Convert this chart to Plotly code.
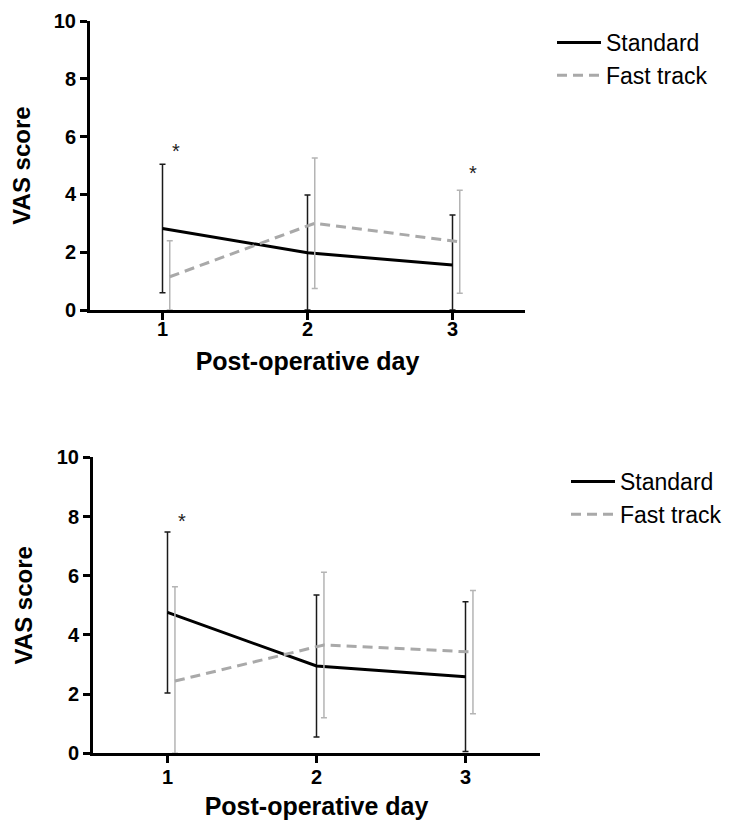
import plotly.graph_objects as go

days = [1, 2, 3]
tick_vals = [0, 2, 4, 6, 8, 10]

# Panel A (top)
top_standard_mean = [2.82, 1.98, 1.56]
top_standard_sd = [2.22, 2.0, 1.73]
top_fast_mean = [1.15, 3.0, 2.36]
top_fast_sd = [1.25, 2.26, 1.78]

# Panel B (bottom)
bot_standard_mean = [4.76, 2.95, 2.59]
bot_standard_sd = [2.72, 2.40, 2.53]
bot_fast_mean = [2.44, 3.66, 3.42]
bot_fast_sd = [3.19, 2.46, 2.08]

top_stars_x = [1.09, 3.14]
top_stars_y = [5.5, 4.75]
bot_stars_x = [1.1]
bot_stars_y = [7.85]

BLACK = "#000000"
GRAY = "#a9a9a9"
EB_GRAY = "#b4b4b4"
OFFSET = 0.05
FONT = "Liberation Sans, Arial, sans-serif"

W, H = 723, 812  # page has an 8px body margin

fig = go.Figure()


def add_panel(std_m, std_sd, fst_m, fst_sd, xa, ya, legend):
    fx = [d + OFFSET for d in days]
    fig.add_trace(go.Scatter(
        x=days, y=std_m, mode="lines", name="Standard",
        line=dict(color=BLACK, width=3),
        error_y=dict(type="data", symmetric=False, array=std_sd,
                     arrayminus=[min(s, m) for s, m in zip(std_sd, std_m)],
                     color="#1a1a1a", thickness=1.5, width=3),
        xaxis=xa, yaxis=ya, legend=legend, showlegend=True))
    fig.add_trace(go.Scatter(
        x=fx, y=fst_m, mode="lines", name="Fast track",
        line=dict(color=GRAY, width=3, dash="10px,6px"),
        error_y=dict(type="data", symmetric=False, array=fst_sd,
                     arrayminus=[min(s, m) for s, m in zip(fst_sd, fst_m)],
                     color=EB_GRAY, thickness=1.5, width=3),
        xaxis=xa, yaxis=ya, legend=legend, showlegend=True))


add_panel(top_standard_mean, top_standard_sd, top_fast_mean, top_fast_sd, "x", "y", "legend")
add_panel(bot_standard_mean, bot_standard_sd, bot_fast_mean, bot_fast_sd, "x2", "y2", "legend2")

for sx, sy in zip(top_stars_x, top_stars_y):
    fig.add_annotation(x=sx, y=sy, xref="x", yref="y", text="*",
                       showarrow=False, font=dict(size=20, color="#222", family=FONT))
for sx, sy in zip(bot_stars_x, bot_stars_y):
    fig.add_annotation(x=sx, y=sy, xref="x2", yref="y2", text="*",
                       showarrow=False, font=dict(size=20, color="#222", family=FONT))


def xaxis_common(standoff, label_standoff):
    return dict(
        range=[0.5, 3.5], tickvals=days, ticktext=[str(d) for d in days],
        showline=True, linecolor=BLACK, linewidth=3, ticks="outside", ticklen=7,
        tickwidth=3, tickcolor=BLACK, showgrid=False, zeroline=False,
        ticklabelstandoff=label_standoff,
        tickfont=dict(size=20, family=FONT, color=BLACK, weight="bold"),
        title=dict(text="Post-operative day", standoff=standoff,
                   font=dict(size=25, family=FONT, color=BLACK, weight="bold")),
        automargin=False,
    )


yaxis_common = dict(
    range=[0, 10], tickvals=tick_vals, ticktext=[str(v) for v in tick_vals],
    showline=True, linecolor=BLACK, linewidth=3, ticks="outside", ticklen=7,
    tickwidth=3, tickcolor=BLACK, showgrid=False, zeroline=False,
    tickfont=dict(size=20, family=FONT, color=BLACK, weight="bold"),
    title=dict(text="VAS score", standoff=18,
               font=dict(size=24, family=FONT, color=BLACK, weight="bold")),
    automargin=False,
)

legend_common = dict(
    font=dict(size=23, family=FONT, color=BLACK),
    bgcolor="rgba(0,0,0,0)", borderwidth=0, xanchor="left", yanchor="top",
    itemwidth=44, tracegroupgap=4,
)

fig.update_layout(
    width=W, height=H,
    margin=dict(l=0, r=0, t=0, b=0),
    paper_bgcolor="white", plot_bgcolor="white",
    xaxis=dict(xaxis_common(14, -8), domain=[82 / W, 517 / W], anchor="y"),
    yaxis=dict(yaxis_common, domain=[(H - 302) / H, (H - 13) / H], anchor="x"),
    xaxis2=dict(xaxis_common(22, -3), domain=[85 / W, 532 / W], anchor="y2"),
    yaxis2=dict(yaxis_common, domain=[(H - 745.3) / H, (H - 449.3) / H], anchor="x2"),
    legend=dict(legend_common, x=544 / W, y=1 - 13 / H),
    legend2=dict(legend_common, x=558 / W, y=1 - 452 / H),
    showlegend=True,
)

fig.write_html("out.html")
